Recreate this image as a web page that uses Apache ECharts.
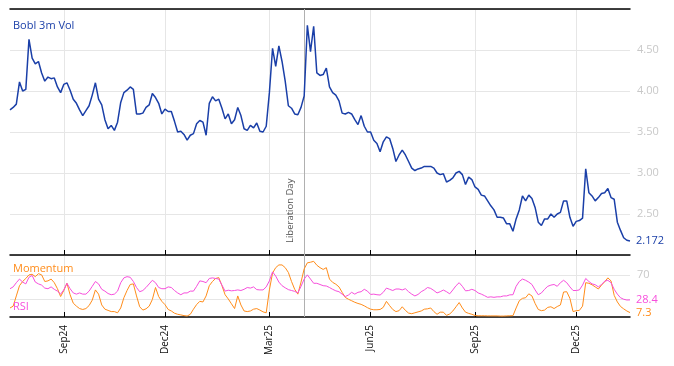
<!DOCTYPE html>
<html><head><meta charset="utf-8">
<script src="https://cdn.jsdelivr.net/npm/echarts@6/dist/echarts.min.js"></script>
<style>html,body{margin:0;padding:0;background:#fff}#c{width:674px;height:366px}</style>
</head><body><div id="c"></div>
<script>
// first category date; categories are every second business day from here
const startDate = '2024-07-17';
const libDate = '2025-04-03';
const seriesNames = ['Bobl 3m Vol', 'Momentum', 'RSI'];
const volTicks = [2.5, 3.0, 3.5, 4.0, 4.5];
const oscTicks = [30, 70];

const volValues = [
 3.77,3.80,3.84,4.11,4.00,4.02,4.63,4.40,4.33,4.36,
 4.22,4.12,4.17,4.15,4.16,4.05,3.98,4.08,4.10,4.01,
 3.90,3.85,3.77,3.70,3.76,3.82,3.95,4.10,3.90,3.83,
 3.65,3.54,3.58,3.52,3.62,3.86,3.98,4.01,4.05,4.02,
 3.72,3.72,3.73,3.80,3.83,3.97,3.92,3.85,3.72,3.78,
 3.75,3.75,3.63,3.50,3.51,3.47,3.40,3.46,3.48,3.60,
 3.64,3.62,3.46,3.85,3.93,3.88,3.90,3.79,3.66,3.72,
 3.60,3.65,3.80,3.70,3.54,3.52,3.58,3.55,3.61,3.51,
 3.50,3.57,3.98,4.52,4.30,4.55,4.36,4.12,3.82,3.79,
 3.72,3.71,3.80,3.94,4.80,4.48,4.79,4.22,4.19,4.20,
 4.28,4.05,3.98,3.95,3.88,3.73,3.72,3.74,3.72,3.65,
 3.59,3.70,3.57,3.50,3.50,3.40,3.36,3.26,3.38,3.44,
 3.42,3.30,3.14,3.22,3.28,3.22,3.14,3.06,3.03,3.05,
 3.06,3.08,3.08,3.08,3.06,3.00,2.98,2.99,2.89,2.91,
 2.94,3.00,3.02,2.98,2.86,2.95,2.92,2.83,2.80,2.73,
 2.72,2.66,2.60,2.55,2.46,2.46,2.45,2.38,2.38,2.29,
 2.44,2.55,2.72,2.66,2.73,2.69,2.58,2.40,2.36,2.44,
 2.44,2.50,2.46,2.50,2.52,2.66,2.66,2.46,2.35,2.41,
 2.42,2.45,3.05,2.76,2.72,2.66,2.70,2.75,2.76,2.81,
 2.70,2.68,2.40,2.30,2.21,2.18,2.172
];

const rsiValues = [
 47,50,57,63,58,55,66,69,58,55,
 53,48,47,50,46,43,38,45,56,47,
 40,38,40,38,38,43,51,59,55,46,
 43,39,37,38,43,57,65,67,66,59,
 49,42,44,49,55,61,57,49,47,47,
 50,49,44,40,37,40,40,43,43,51,
 60,59,57,64,65,64,63,53,43,44.5,
 43.5,44,45,44,46,49,48,50,45.5,45,
 45,50,60,75,68,58,52,48.5,45.5,44,
 42.6,40,51,63,70,63,56,56,54,52,
 51.5,49,46,43.5,42,38,34,36.5,41,38,
 41,42,46,43,37.5,38,37,36.5,41,48,
 46,44,46.5,46.5,45,47,42,38,35,37.5,
 42,45,49,47.5,44,40,42,44.8,42,38.5,
 45,52,57,51,43.5,44,46,44,40,38,
 35.5,32.7,33.5,32.7,33.5,33.5,35,35,36.8,37,
 51,59,63,61,58,54,45,37,40,46,
 51,53,54,51,57,61,57,50,44,44,
 45,53,64,59,55,53.6,50,54,59.5,61,
 57,46,38,32,29.5,28.2,28.4
];

const momentumValues = [
 15,18,35,52,59,64,70,71,67,72,
 70,59,60,63,57,47,34,44,56,37,
 23,18,14,12.5,14,19,28,45,38,20,
 13,11,9,9,7,15,32,44,54,55,
 35,17,11.5,13.6,18,29,49,34,26,20.5,
 12.5,10,6.3,4.5,3.5,2.3,1.6,4.5,13,20.7,
 26,25,35,52,59,64,65.5,52,37,30,
 22,14,35,20,10,9,10,13,14,11.5,
 8.5,7,45,73,82,86.5,86.5,82,74,59,
 46,38,58,80,90,91,92.5,86,82,79,
 82,63,57.5,54.5,50,41,32.5,29.5,27,24.5,
 22.5,21,18.5,15.5,13,12,12,12.5,16,26,
 19,12.5,9,10.5,17,11,6.5,5.5,7,8.5,
 10,13,13.6,15,9,4.5,8,8,2.7,5,
 10,17,24,15,8,6,4.5,2.5,2,2,
 2,1.8,1.8,1.8,1.8,1.5,1.5,1.8,2,2.2,
 15,27,31,32,38.5,35,22.5,12.5,10.5,11.5,
 16,17,14,17.4,20,41.5,42,31,9,10.5,
 11,18,57,56,53.5,50,46.5,53,58.5,65,
 60,36,25,17.5,13.5,10,7.3
];

const MON = ['Jan','Feb','Mar','Apr','May','Jun','Jul','Aug','Sep','Oct','Nov','Dec'];
function buildCategories(start, n) {
  const out = []; const d = new Date(start + 'T00:00:00Z'); let b = 0;
  while (out.length < n) {
    const wd = d.getUTCDay();
    if (wd !== 0 && wd !== 6) { if (b % 2 === 0) out.push(d.toISOString().slice(0, 10)); b++; }
    d.setUTCDate(d.getUTCDate() + 1);
  }
  return out;
}
const categories = buildCategories(startDate, volValues.length);
const monthOf = s => +s.slice(5, 7) - 1;
function isQuarter(i) {
  if (i === 0) return false;
  const m = monthOf(categories[i]);
  return m !== monthOf(categories[i - 1]) && [2, 5, 8, 11].includes(m);
}
const qFn = (i) => isQuarter(i);

const FONT = 'Open Sans';
const BLUE = '#1a3fa8', ORANGE = '#ff8c1a', PINK = '#f74fdc';
const GRID_C = '#e6e6e6';

const chart = echarts.init(document.getElementById('c'), null, {renderer: 'canvas'});
chart.setOption({
  animation: false,
  backgroundColor: '#fff',
  textStyle: {fontFamily: FONT},
  title: [
    {text: seriesNames[0], left: 13, top: 20, padding: 0, textStyle: {color: BLUE, fontSize: 11, fontWeight: 'normal', fontFamily: FONT}},
    {text: seriesNames[1], left: 13, top: 263, padding: 0, textStyle: {color: ORANGE, fontSize: 11, fontWeight: 'normal', fontFamily: FONT}},
    {text: seriesNames[2], left: 13, top: 301, padding: 0, textStyle: {color: PINK, fontSize: 11, fontWeight: 'normal', fontFamily: FONT}}
  ],
  grid: [
    {left: 10, right: 44, top: 9, height: 246},
    {left: 10, right: 44, top: 255, height: 62}
  ],
  xAxis: [
    {type: 'category', gridIndex: 0, data: categories, boundaryGap: false,
     axisLine: {lineStyle: {color: '#000', width: 1.5}},
     axisTick: {inside: true, length: 5, interval: qFn, lineStyle: {color: '#000'}},
     axisLabel: {show: false},
     splitLine: {show: true, interval: qFn, lineStyle: {color: GRID_C, width: 1}}},
    {type: 'category', gridIndex: 0, position: 'top', data: categories, boundaryGap: false,
     axisLine: {lineStyle: {color: '#000', width: 1.5}},
     axisTick: {show: false}, axisLabel: {show: false}, splitLine: {show: false}},
    {type: 'category', gridIndex: 1, data: categories, boundaryGap: false,
     axisLine: {lineStyle: {color: '#000', width: 1.5}},
     axisTick: {inside: true, length: 5, interval: qFn, lineStyle: {color: '#000'}},
     axisLabel: {interval: qFn, rotate: 90, margin: 8, fontSize: 10, color: '#111', fontFamily: FONT,
       formatter: v => MON[monthOf(v)] + v.slice(2, 4)},
     splitLine: {show: true, interval: qFn, lineStyle: {color: GRID_C, width: 1}}}
  ],
  yAxis: [
    {type: 'value', gridIndex: 0, position: 'right', min: 2, max: 5, interval: 0.5,
     axisLine: {show: false}, axisTick: {show: false},
     axisLabel: {color: '#c8c8c8', fontSize: 11, margin: 7, fontFamily: FONT,
       formatter: v => volTicks.some(t => Math.abs(t - v) < 1e-6) ? v.toFixed(2) : ''},
     splitLine: {lineStyle: {color: GRID_C, width: 1}}},
    {type: 'value', gridIndex: 1, position: 'right', min: 0, max: 103,
     axisLine: {show: false}, axisTick: {show: false}, axisLabel: {show: false}, splitLine: {show: false}}
  ],
  series: [
    {name: seriesNames[0], type: 'line', xAxisIndex: 0, yAxisIndex: 0, data: volValues,
     symbol: 'none', z: 3, lineStyle: {color: BLUE, width: 1.5}, itemStyle: {color: BLUE},
     endLabel: {show: true, formatter: p => String(p.value), color: BLUE, fontSize: 11, distance: 6, fontFamily: FONT},
     markLine: {silent: true, symbol: ['none', 'none'], z: 1, animation: false,
       lineStyle: {color: '#b0b0b0', width: 1, type: 'solid'},
       label: {show: true, position: 'insideStartTop', formatter: 'Liberation Day', color: '#555',
               fontSize: 9.5, fontFamily: FONT, distance: [12, 9]},
       emphasis: {disabled: true},
       data: [{xAxis: libDate}]}},
    {name: seriesNames[1], type: 'line', xAxisIndex: 2, yAxisIndex: 1, data: momentumValues,
     symbol: 'none', z: 3, lineStyle: {color: ORANGE, width: 1}, itemStyle: {color: ORANGE},
     endLabel: {show: true, formatter: p => String(p.value), color: ORANGE, fontSize: 11, distance: 6, fontFamily: FONT}},
    {name: seriesNames[2], type: 'line', xAxisIndex: 2, yAxisIndex: 1, data: rsiValues,
     symbol: 'none', z: 4, lineStyle: {color: PINK, width: 1}, itemStyle: {color: PINK},
     endLabel: {show: true, formatter: p => String(p.value), color: PINK, fontSize: 11, distance: 6, fontFamily: FONT},
     markLine: {silent: true, symbol: ['none', 'none'], z: 1, animation: false,
       emphasis: {disabled: true},
       data: [
         {yAxis: oscTicks[1], lineStyle: {color: GRID_C, width: 1, type: 'solid'},
          label: {show: true, position: 'end', formatter: String(oscTicks[1]), color: '#c8c8c8', fontSize: 11, distance: 7, fontFamily: FONT}},
         {yAxis: oscTicks[0], lineStyle: {color: GRID_C, width: 1, type: 'solid'}, label: {show: false}},
         {xAxis: libDate, lineStyle: {color: '#b0b0b0', width: 1, type: 'solid'}, label: {show: false}}
       ]}}
  ]
});
</script></body></html>
